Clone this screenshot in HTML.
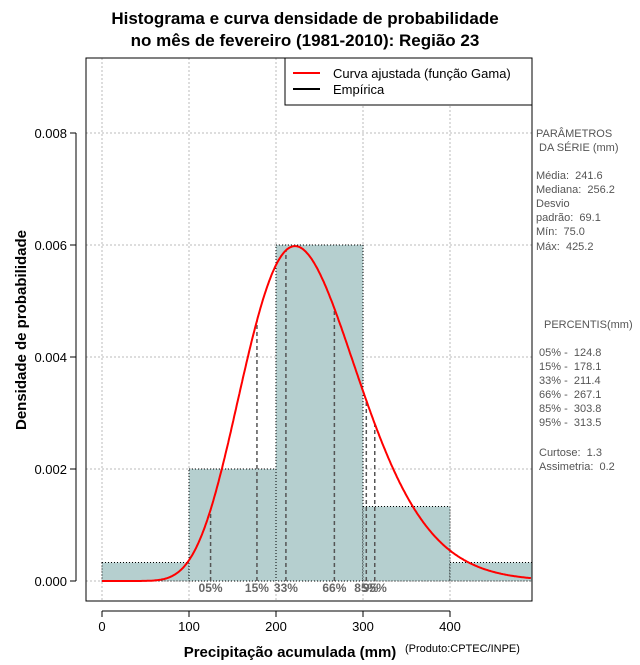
<!DOCTYPE html>
<html><head><meta charset="utf-8"><style>
body{margin:0;background:#fff;width:640px;height:660px;overflow:hidden}
svg{font-family:"Liberation Sans",sans-serif}
svg text{white-space:pre}
</style></head><body>
<svg id="chart" width="640" height="660" xmlns="http://www.w3.org/2000/svg">
<text x="305" y="24" text-anchor="middle" font-weight="bold" font-size="17">Histograma e curva densidade de probabilidade</text>
<text x="305" y="46" text-anchor="middle" font-weight="bold" font-size="17">no mês de fevereiro (1981-2010): Região 23</text>
<g id="grid"></g>
<g id="bars"></g>
<g id="pct"></g>
<path id="curve" fill="none" stroke="#ff0000" stroke-width="2"/>
<rect x="86" y="58" width="446" height="543" fill="none" stroke="#000"/>
<g id="axes"></g>
<text transform="translate(26,330) rotate(-90)" text-anchor="middle" font-weight="bold" font-size="15">Densidade de probabilidade</text>
<text x="290" y="657" text-anchor="middle" font-weight="bold" font-size="15">Precipitação acumulada (mm)</text>
<text x="405" y="652" font-size="11">(Produto:CPTEC/INPE)</text>
<g>
<rect x="285" y="58" width="247" height="47" fill="#fff" stroke="#000"/>
<line x1="293" y1="73" x2="320" y2="73" stroke="#f00" stroke-width="2"/>
<text x="333" y="78" font-size="13">Curva ajustada (função Gama)</text>
<line x1="293" y1="89" x2="320" y2="89" stroke="#000" stroke-width="2"/>
<text x="333" y="94" font-size="13">Empírica</text>
</g>
<g font-size="11" fill="#555">
<text x="536" y="137">PARÂMETROS</text><text x="536" y="151"> DA SÉRIE (mm)</text>
<text x="536" y="179">Média:  241.6</text><text x="536" y="193">Mediana:  256.2</text>
<text x="536" y="207">Desvio</text><text x="536" y="221">padrão:  69.1</text>
<text x="536" y="235">Mín:  75.0</text><text x="536" y="250">Máx:  425.2</text>
<text x="544" y="328">PERCENTIS(mm)</text>
<text x="539" y="356">05% -  124.8</text><text x="539" y="370">15% -  178.1</text>
<text x="539" y="384">33% -  211.4</text><text x="539" y="398">66% -  267.1</text>
<text x="539" y="412">85% -  303.8</text><text x="539" y="426">95% -  313.5</text>
<text x="539" y="456">Curtose:  1.3</text><text x="539" y="470">Assimetria:  0.2</text>
</g>
</svg>
<script>
const binStarts=[0,100,200,300,400];
const binDensity=[0.00033,0.002,0.006,0.00133,0.00033];
const pctLabels=["05%","15%","33%","66%","85%","95%"];
const pctValues=[124.8,178.1,211.4,267.1,303.8,313.5];
const xTicks=[0,100,200,300,400];
const yTicks=[0,0.002,0.004,0.006,0.008];
const fitParams=[241.6,69.1];
const NS="http://www.w3.org/2000/svg";
const X=v=>102+v*0.87, Y=v=>581-v*56000;
function mk(t,a,p){const e=document.createElementNS(NS,t);for(const k in a)e.setAttribute(k,a[k]);p.appendChild(e);return e;}
function lgamma(z){const g=7,c=[0.99999999999980993,676.5203681218851,-1259.1392167224028,771.32342877765313,-176.61503916999185,12.507343278686905,-0.13857109526572012,9.9843695780195716e-6,1.5056327351493116e-7];z-=1;let x=c[0];for(let i=1;i<9;i++)x+=c[i]/(z+i);const t=z+g+0.5;return 0.5*Math.log(2*Math.PI)+(z+0.5)*Math.log(t)-t+Math.log(x);}
const k=(fitParams[0]/fitParams[1])**2, th=fitParams[1]**2/fitParams[0];
const pdf=x=>x<=0?0:Math.exp((k-1)*Math.log(x)-x/th-lgamma(k)-k*Math.log(th));
const grid=document.getElementById('grid');
xTicks.forEach(v=>{const l=mk('line',{x1:X(v),x2:X(v),y1:58,y2:601,stroke:'#bbb','stroke-dasharray':'2,2'},grid);});
yTicks.forEach(v=>{const l=mk('line',{x1:86,x2:532,y1:Y(v),y2:Y(v),stroke:'#bbb','stroke-dasharray':'2,2'},grid);});
const bars=document.getElementById('bars');
binStarts.forEach((s,i)=>{const x1=X(s),x2=Math.min(X(s+100),532);const r=mk('rect',{x:x1,y:Y(binDensity[i]),width:x2-x1,height:Y(0)-Y(binDensity[i]),fill:'#b5cfcf',stroke:'#000','stroke-width':1,'stroke-dasharray':'1,2'},bars);});
const pct=document.getElementById('pct');
pctValues.forEach((v,i)=>{const l=mk('line',{x1:X(v),x2:X(v),y1:Y(0),y2:Y(pdf(v)),stroke:'#555','stroke-width':1.5,'stroke-dasharray':'4,3'},pct);
const t=mk('text',{x:X(v),y:592,'text-anchor':'middle','font-size':12,'font-weight':'bold',fill:'#666'},pct);t.textContent=pctLabels[i];});
let d='';for(let x=0;x<=493;x+=1){d+=(x?'L':'M')+X(x).toFixed(1)+','+Y(pdf(x)).toFixed(1);}
document.getElementById('curve').setAttribute('d',d);
const ax=document.getElementById('axes');
mk('line',{x1:X(0),x2:X(400),y1:611,y2:611,stroke:'#000'},ax);
xTicks.forEach(v=>{mk('line',{x1:X(v),x2:X(v),y1:611,y2:617,stroke:'#000'},ax);const t=mk('text',{x:X(v),y:631,'text-anchor':'middle','font-size':13},ax);t.textContent=v;});
mk('line',{x1:76,x2:76,y1:Y(0),y2:Y(0.008),stroke:'#000'},ax);
yTicks.forEach(v=>{mk('line',{x1:70,x2:76,y1:Y(v),y2:Y(v),stroke:'#000'},ax);const t=mk('text',{x:67,y:Y(v)+5,'text-anchor':'end','font-size':13},ax);t.textContent=v.toFixed(3);});
</script>
</body></html>
